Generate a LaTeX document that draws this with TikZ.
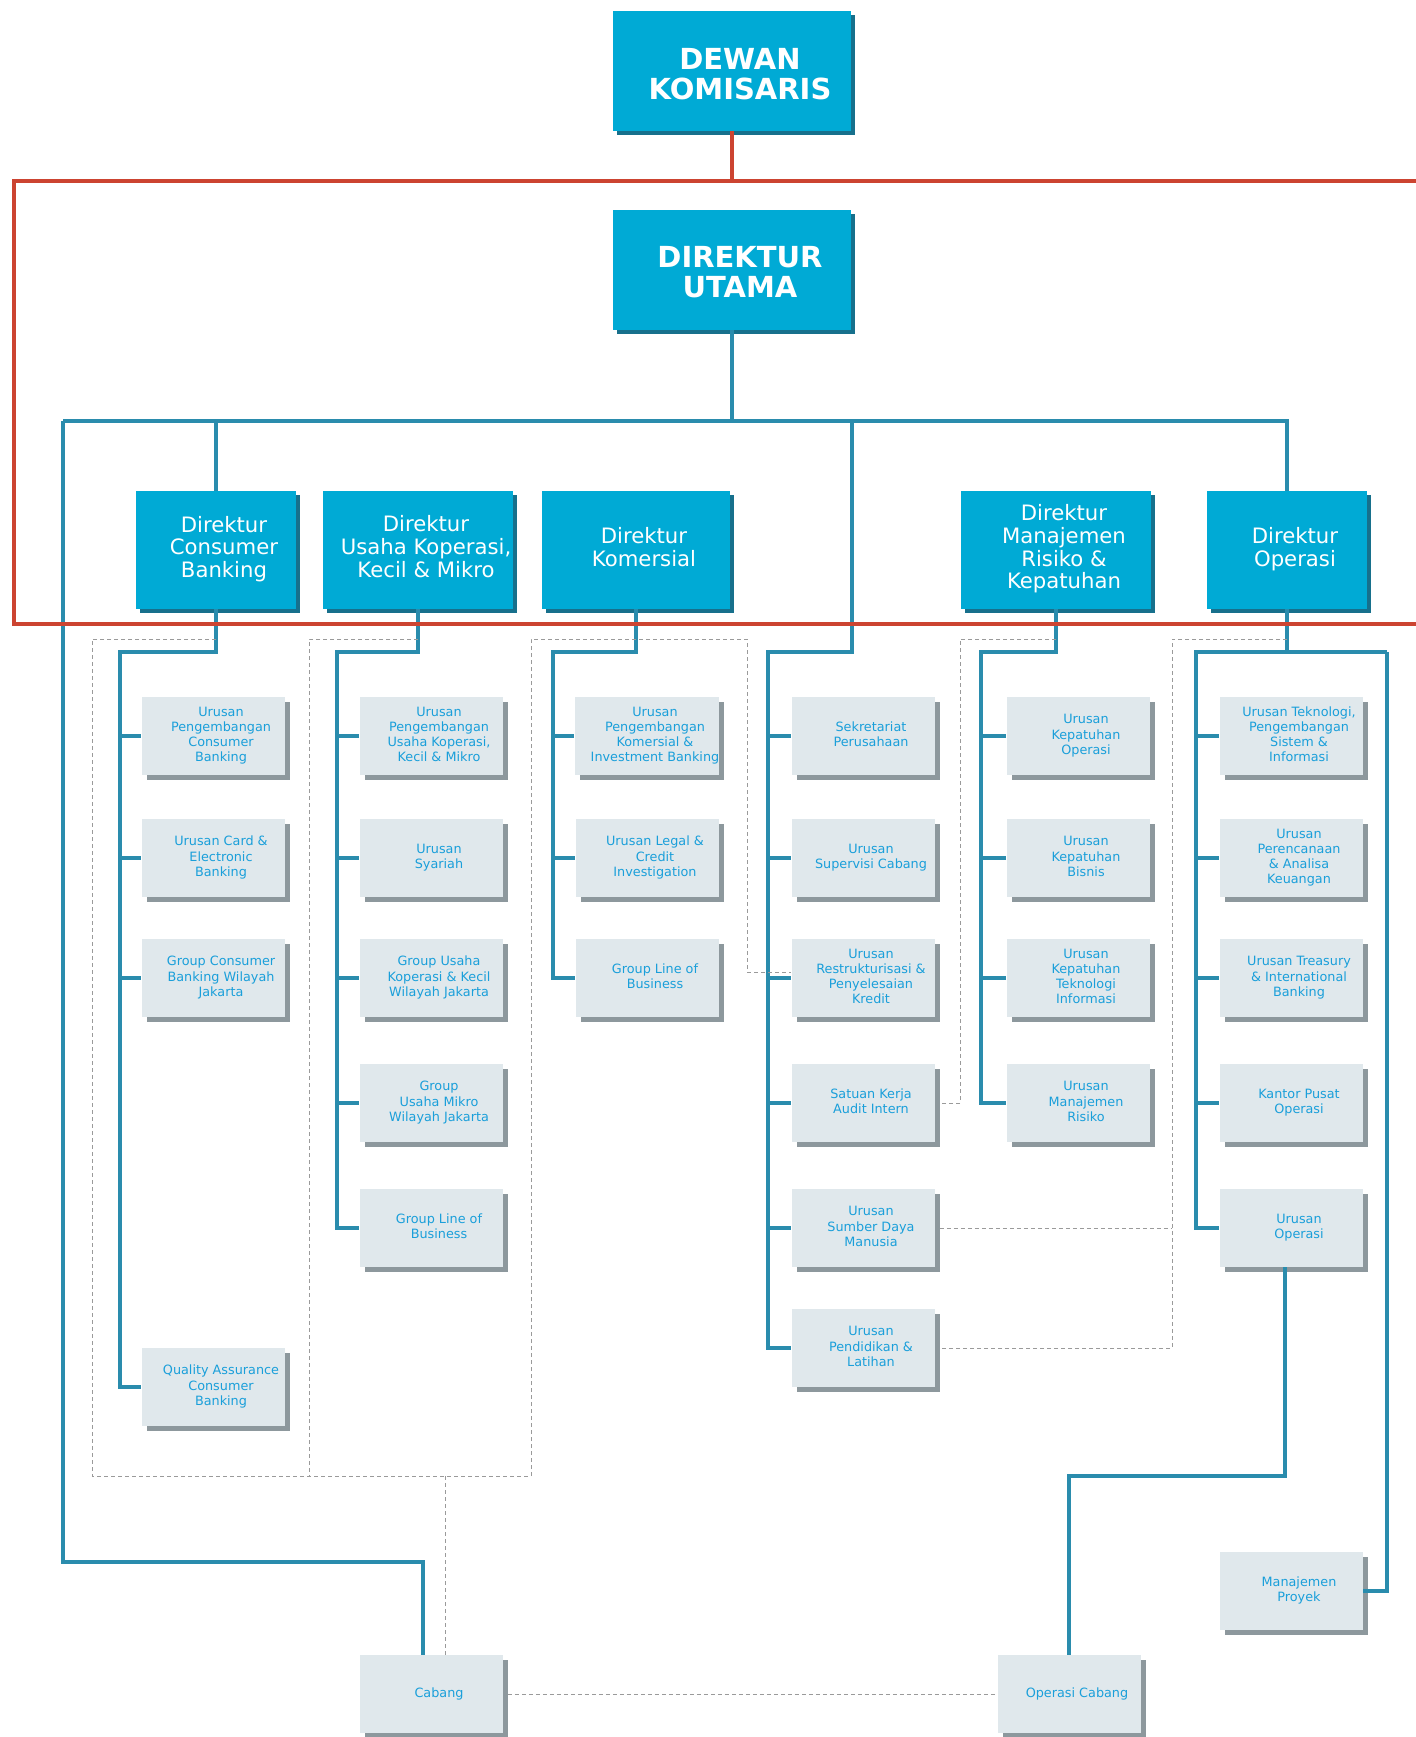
\documentclass[tikz,border=0pt]{standalone}
\usepackage{fontspec}
\setmainfont{DejaVu Sans}
\usetikzlibrary{shadows}

\definecolor{dirblue}{HTML}{00AAD5}
\definecolor{dirshade}{HTML}{17708C}
\definecolor{boxfill}{HTML}{E0E8EC}
\definecolor{boxshade}{HTML}{8D989D}
\definecolor{txtblue}{HTML}{1A9FDA}
\definecolor{lineblue}{HTML}{2A8CAD}
\definecolor{redline}{HTML}{CC4431}
\definecolor{dashgray}{HTML}{9A9A9A}

% teks dalam kotak (sedikit bergeser ke kanan)
\newcommand{\tlines}[1]{\begin{tabular}{@{\hspace{8pt}}c@{}}#1\end{tabular}}

\begin{document}
\begin{tikzpicture}[x=0.5pt, y=-0.5pt,
    % === STYLE ===
    head box/.style={rectangle, fill=dirblue, text=white, inner sep=0pt,
        minimum width=119pt, minimum height=60pt,
        font=\fontsize{14.5}{13.5}\selectfont\bfseries,
        general shadow={fill=dirshade, shadow xshift=2pt, shadow yshift=-2pt}},
    dir box/.style={rectangle, fill=dirblue, text=white, inner sep=0pt,
        minimum height=59pt, font=\fontsize{10.6}{11.2}\selectfont,
        general shadow={fill=dirshade, shadow xshift=2pt, shadow yshift=-2pt}},
    unit box/.style={rectangle, fill=boxfill, text=txtblue, inner sep=0pt,
        minimum width=71.5pt, minimum height=39pt,
        font=\fontsize{6.4}{7.6}\selectfont,
        general shadow={fill=boxshade, shadow xshift=2.5pt, shadow yshift=-2.5pt}},
    blue line/.style={draw=lineblue, line width=2pt},
    red line/.style={draw=redline, line width=2pt},
    dash line/.style={draw=dashgray, line width=0.5pt, dash pattern=on 2pt off 1.5pt},
]
    \useasboundingbox[fill=white] (0,0) rectangle (1416,1737);

    % === KOMISARIS & DIREKTUR UTAMA ===
    \node[head box] (dk) at (732,71)  {\tlines{\rule{0pt}{17.5pt}DEWAN\\KOMISARIS}};
    \node[head box] (du) at (732,270) {\tlines{\rule{0pt}{16.5pt}DIREKTUR\\UTAMA}};

    % === DIREKTUR ===
    \node[dir box, minimum width=80pt] (dcb)  at (216,550)  {\tlines{Direktur\\Consumer\\Banking}};
    \node[dir box, minimum width=95pt] (duk)  at (418,550)  {\tlines{Direktur\\Usaha Koperasi,\\Kecil \& Mikro}};
    \node[dir box, minimum width=94pt] (dkom) at (636,550)  {\tlines{Direktur\\Komersial}};
    \node[dir box, minimum width=95pt] (dmr)  at (1056,550) {\tlines{Direktur\\Manajemen\\Risiko \&\\Kepatuhan}};
    \node[dir box, minimum width=80pt] (dops) at (1287,550) {\tlines{Direktur\\Operasi}};

    % === URUSAN: CONSUMER BANKING ===
    \node[unit box] (cb1)  at (213,736)  {\tlines{Urusan\\Pengembangan\\Consumer\\Banking}};
    \node[unit box] (cb2)  at (213,858)  {\tlines{Urusan Card \&\\Electronic\\Banking}};
    \node[unit box] (cb3)  at (213,978)  {\tlines{Group Consumer\\Banking Wilayah\\Jakarta}};
    \node[unit box] (cbqa) at (213,1387) {\tlines{Quality Assurance\\Consumer\\Banking}};

    % === URUSAN: USAHA KOPERASI, KECIL & MIKRO ===
    \node[unit box] (uk1) at (431,736)  {\tlines{Urusan\\Pengembangan\\Usaha Koperasi,\\Kecil \& Mikro}};
    \node[unit box] (uk2) at (431,858)  {\tlines{Urusan\\Syariah}};
    \node[unit box] (uk3) at (431,978)  {\tlines{Group Usaha\\Koperasi \& Kecil\\Wilayah Jakarta}};
    \node[unit box] (uk4) at (431,1103) {\tlines{Group\\Usaha Mikro\\Wilayah Jakarta}};
    \node[unit box] (uk5) at (431,1228) {\tlines{Group Line of\\Business}};

    % === URUSAN: KOMERSIAL ===
    \node[unit box] (km1) at (647,736) {\tlines{Urusan\\Pengembangan\\Komersial \&\\Investment Banking}};
    \node[unit box] (km2) at (647,858) {\tlines{Urusan Legal \&\\Credit\\Investigation}};
    \node[unit box] (km3) at (647,978) {\tlines{Group Line of\\Business}};

    % === URUSAN: DIREKTUR UTAMA ===
    \node[unit box] (sk1) at (863,736)  {\tlines{Sekretariat\\Perusahaan}};
    \node[unit box] (sk2) at (863,858)  {\tlines{Urusan\\Supervisi Cabang}};
    \node[unit box] (sk3) at (863,978)  {\tlines{Urusan\\Restrukturisasi \&\\Penyelesaian\\Kredit}};
    \node[unit box] (sk4) at (863,1103) {\tlines{Satuan Kerja\\Audit Intern}};
    \node[unit box] (sk5) at (863,1228) {\tlines{Urusan\\Sumber Daya\\Manusia}};
    \node[unit box] (sk6) at (863,1348) {\tlines{Urusan\\Pendidikan \&\\Latihan}};

    % === URUSAN: MANAJEMEN RISIKO & KEPATUHAN ===
    \node[unit box] (mr1) at (1078,736)  {\tlines{Urusan\\Kepatuhan\\Operasi}};
    \node[unit box] (mr2) at (1078,858)  {\tlines{Urusan\\Kepatuhan\\Bisnis}};
    \node[unit box] (mr3) at (1078,978)  {\tlines{Urusan\\Kepatuhan\\Teknologi\\Informasi}};
    \node[unit box] (mr4) at (1078,1103) {\tlines{Urusan\\Manajemen\\Risiko}};

    % === URUSAN: OPERASI ===
    \node[unit box] (op1) at (1291,736)  {\tlines{Urusan Teknologi,\\Pengembangan\\Sistem \&\\Informasi}};
    \node[unit box] (op2) at (1291,858)  {\tlines{Urusan\\Perencanaan\\\& Analisa\\Keuangan}};
    \node[unit box] (op3) at (1291,978)  {\tlines{Urusan Treasury\\\& International\\Banking}};
    \node[unit box] (op4) at (1291,1103) {\tlines{Kantor Pusat\\Operasi}};
    \node[unit box] (op5) at (1291,1228) {\tlines{Urusan\\Operasi}};
    \node[unit box] (mp)  at (1291,1591) {\tlines{Manajemen\\Proyek}};

    % === CABANG ===
    \node[unit box] (cab)   at (431,1694)  {\tlines{Cabang}};
    \node[unit box] (opcab) at (1069,1694) {\tlines{Operasi Cabang}};

    % === GARIS BIRU ===
    \coordinate (bus) at (732,421);
    \draw[blue line] (du.south) -- (bus);
    \draw[blue line] (63,421) -- (dops.north |- bus) -- (dops.north);
    \draw[blue line] (dcb.north |- bus) -- (dcb.north);
    \draw[blue line] (63,421) -- (63,1562) -| ([xshift=-4pt]cab.north);

    % consumer banking
    \coordinate (t1) at (120,652);
    \draw[blue line] (dcb.south) |- (t1) |- (cbqa.west);
    \foreach \n in {cb1,cb2,cb3} \draw[blue line] (\n.west -| t1) -- (\n.west);

    % usaha koperasi
    \coordinate (t2) at (337,652);
    \draw[blue line] (duk.south) |- (t2) |- (uk5.west);
    \foreach \n in {uk1,uk2,uk3,uk4} \draw[blue line] (\n.west -| t2) -- (\n.west);

    % komersial
    \coordinate (t3) at (553,652);
    \draw[blue line] (dkom.south) |- (t3) |- (km3.west);
    \foreach \n in {km1,km2} \draw[blue line] (\n.west -| t3) -- (\n.west);

    % direktur utama
    \coordinate (t4) at (768,652);
    \draw[blue line] (852,421) |- (t4) |- (sk6.west);
    \foreach \n in {sk1,sk2,sk3,sk4,sk5} \draw[blue line] (\n.west -| t4) -- (\n.west);

    % manajemen risiko
    \coordinate (t5) at (981,652);
    \draw[blue line] (dmr.south) |- (t5) |- (mr4.west);
    \foreach \n in {mr1,mr2,mr3} \draw[blue line] (\n.west -| t5) -- (\n.west);

    % operasi
    \coordinate (t6) at (1196,652);
    \coordinate (t6r) at (1387,652);
    \draw[blue line] (dops.south) -- (dops.south |- t6);
    \draw[blue line] (t6r) -- (t6) |- (op5.west);
    \draw[blue line] (t6r) |- (mp.east);
    \foreach \n in {op1,op2,op3,op4} \draw[blue line] (\n.west -| t6) -- (\n.west);
    \draw[blue line] ([xshift=-3pt]op5.south) -- ++(0,209) -| (opcab.north);

    % === GARIS MERAH ===
    \draw[red line] (dk.south) -- (dk.south |- 0,181);
    \draw[red line] (1416,181) -- (14,181) -- (14,624) -- (1416,624);

    % === GARIS PUTUS-PUTUS ===
    \coordinate (g1) at (92,639);
    \coordinate (g2) at (309,639);
    \coordinate (g3) at (531,639);
    \coordinate (g4) at (747,639);
    \coordinate (gb) at (445,1476);
    \draw[dash line] (dcb.south |- g1) -- (g1) -- (92,1476) -- (531,1476) -- (g3) -- (g4) |- ([yshift=3pt]sk3.west);
    \draw[dash line] (duk.south |- g2) -- (g2) -- (309,1476);
    \draw[dash line] (gb) -- (gb |- cab.north);
    \coordinate (g5) at (960,639);
    \draw[dash line] (dmr.south |- g5) -- (g5) |- ([xshift=2.5pt]sk4.east);
    \coordinate (g6) at (1172,639);
    \draw[dash line] (dops.south |- g6) -- (g6) |- ([xshift=2.5pt]sk6.east);
    \draw[dash line] ([xshift=2.5pt]sk5.east) -- (sk5.east -| g6);
    \draw[dash line] ([xshift=2.5pt]cab.east) -- (opcab.west);

\end{tikzpicture}
\end{document}
